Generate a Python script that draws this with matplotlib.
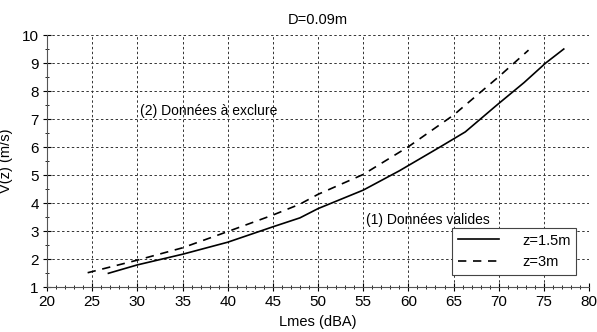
import numpy as np
import matplotlib.pyplot as plt
from matplotlib.ticker import MultipleLocator

plt.rcParams['font.family'] = ['Liberation Sans', 'DejaVu Sans']

# z = 1.5 m
lmes_15 = [26.8, 30, 35, 40, 45, 48, 50, 55, 59, 63.5, 66.3, 69.8, 72.8, 75.2, 77.2]
v_15 = [1.49, 1.79, 2.17, 2.6, 3.15, 3.47, 3.8, 4.46, 5.15, 6.0, 6.54, 7.5, 8.3, 9.0, 9.5]

# z = 3 m
lmes_3 = [24.5, 30, 35, 40, 45, 48, 50, 55, 60, 65, 70, 73.3]
v_3 = [1.51, 1.96, 2.4, 2.98, 3.57, 3.96, 4.31, 5.02, 6.01, 7.14, 8.51, 9.46]

fig = plt.figure(figsize=(5.97, 3.32), dpi=100)
ax = fig.add_axes([0.0787, 0.1355, 0.908, 0.759])

ax.plot(lmes_15, v_15, color='black', linewidth=1.2, label='z=1.5m')
ax.plot(lmes_3, v_3, color='black', linewidth=1.2, linestyle=(0, (5, 4)), label='z=3m')

ax.set_xlim(20, 80)
ax.set_ylim(1, 10)
ax.xaxis.set_major_locator(MultipleLocator(5))
ax.xaxis.set_minor_locator(MultipleLocator(1))
ax.yaxis.set_major_locator(MultipleLocator(1))
ax.yaxis.set_minor_locator(MultipleLocator(0.5))
ax.tick_params(which='major', direction='inout', length=6, width=0.8, labelsize=11, pad=3)
ax.tick_params(which='minor', direction='inout', length=3, width=0.6)

ax.grid(True, which='major', color='#333333', linestyle=(0, (2.5, 2.5)), linewidth=0.7)
ax.spines['top'].set_visible(False)
ax.spines['right'].set_visible(False)
ax.spines['left'].set_color('#555555')
ax.spines['bottom'].set_color('#555555')

ax.set_title('D=0.09m', fontsize=10.5, pad=8)
ax.set_xlabel('Lmes (dBA)', fontsize=10.5, labelpad=4)
ax.set_ylabel('V(z) (m/s)', fontsize=10.5, labelpad=6)

ax.text(30.3, 7.3, '(2) Données à exclure', fontsize=10, va='center')
ax.text(55.3, 3.4, '(1) Données valides', fontsize=10, va='center')

leg = ax.legend(loc='lower right', bbox_to_anchor=(0.99, 0.02), fontsize=10.5,
                fancybox=False, framealpha=1, edgecolor='#444444',
                handlelength=2.8, handletextpad=1.6, borderpad=0.4,
                labelspacing=0.5)
leg.get_frame().set_linewidth(0.8)

fig.savefig('out.png', dpi=100)
